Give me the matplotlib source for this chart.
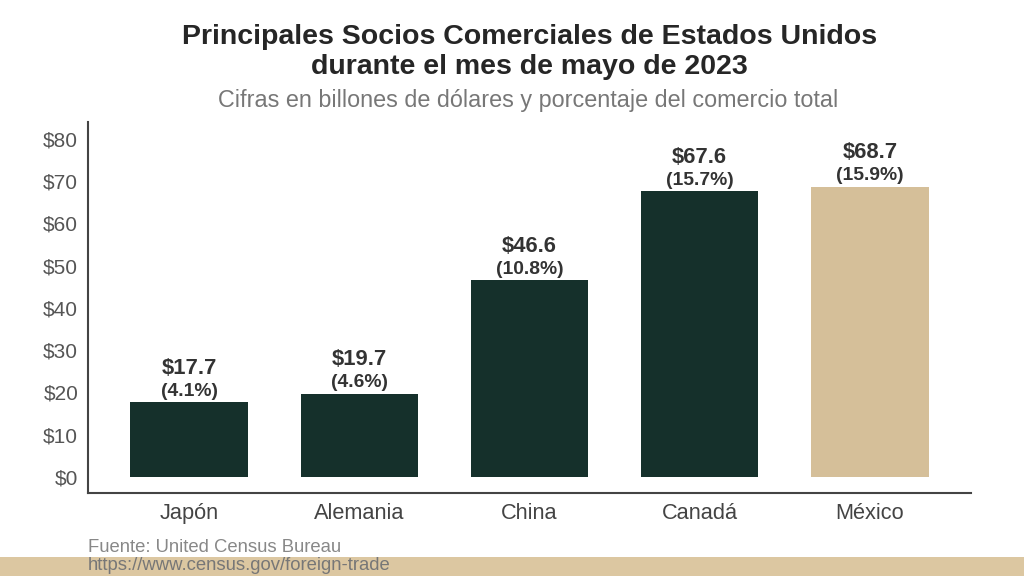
import matplotlib.pyplot as plt
from matplotlib.patches import Rectangle

plt.rcParams['font.family'] = ['Liberation Sans', 'DejaVu Sans']

# Datos
paises = ["Japón", "Alemania", "China", "Canadá", "México"]
valores = [17.7, 19.7, 46.6, 67.6, 68.7]
porcentajes = ["4.1%", "4.6%", "10.8%", "15.7%", "15.9%"]
ticks_y = [0, 10, 20, 30, 40, 50, 60, 70, 80]

verde = "#15302b"
arena = "#d5bf99"
colores = [verde, verde, verde, verde, arena]

fig = plt.figure(figsize=(10.24, 5.76), dpi=100)
fig.patch.set_facecolor("white")

# franja inferior
fig.patches.append(Rectangle((0, 0), 1, 19 / 576, transform=fig.transFigure,
                             facecolor="#dcc7a1", edgecolor="none", zorder=0))

ax = fig.add_axes([88 / 1024, (576 - 493) / 576, (971 - 88) / 1024, (493 - 122) / 576])
ax.set_facecolor("none")

x = range(len(paises))
ax.bar(x, valores, width=0.69, color=colores, zorder=2)

for i, (v, p) in enumerate(zip(valores, porcentajes)):
    ax.text(i, v + 8.0, f"${v}", ha="center", va="center", fontsize=15.8,
            fontweight="bold", color="#333333")
    ax.text(i, v + 2.6, f"({p})", ha="center", va="center", fontsize=13.9,
            fontweight="bold", color="#333333")

ax.set_xlim(-0.594, 4.594)
ax.set_ylim(-3.8, 84)
ax.set_xticks(list(x))
ax.set_xticklabels(paises, fontsize=15.7, color="#444444")
ax.set_yticks(ticks_y)
ax.set_yticklabels([f"${t}" for t in ticks_y], fontsize=15, color="#555555")
ax.tick_params(length=0, pad=7)
ax.tick_params(axis="x", pad=7)

for s in ["top", "right"]:
    ax.spines[s].set_visible(False)
ax.spines["left"].set_color("#444444")
ax.spines["bottom"].set_color("#444444")
ax.spines["left"].set_linewidth(1.5)
ax.spines["bottom"].set_linewidth(1.5)

fig.text(0.517, 1 - 37 / 576, "Principales Socios Comerciales de Estados Unidos",
         ha="center", va="center", fontsize=20.5, fontweight="bold", color="#262626")
fig.text(0.517, 1 - 67 / 576, "durante el mes de mayo de 2023",
         ha="center", va="center", fontsize=20.5, fontweight="bold", color="#262626")
fig.text(0.516, 1 - 100 / 576, "Cifras en billones de dólares y porcentaje del comercio total",
         ha="center", va="center", fontsize=16.8, color="#777777")

fig.text(88 / 1024, 1 - 547 / 576, "Fuente: United Census Bureau", ha="left", va="center",
         fontsize=13.3, color="#888888")
fig.text(88 / 1024, 1 - 566 / 576, "https://www.census.gov/foreign-trade", ha="left", va="center",
         fontsize=13.3, color="#777777")

fig.savefig("out.png", dpi=100)
